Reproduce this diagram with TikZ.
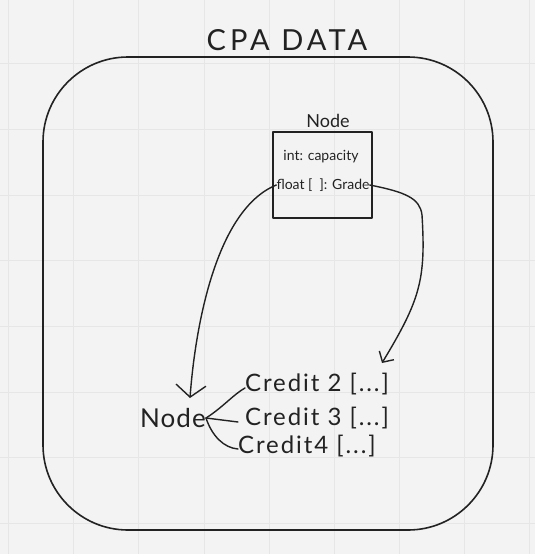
\documentclass[tikz,border=0pt]{standalone}
\usepackage{fontspec}
\setmainfont{Lato}
\usepackage{xcolor}
\usetikzlibrary{arrows.meta,positioning,calc}
\definecolor{paper}{HTML}{F3F3F3}
\definecolor{gridline}{HTML}{E6E6E6}
\definecolor{ink}{HTML}{222222}

\begin{document}
\begin{tikzpicture}[x=1pt,y=-1pt,
    pen/.style={ink,line width=1.4pt,line cap=round,line join=round},
    hand/.style={inner sep=0pt,text=ink},
    bigbarb/.style={-{Straight Barb[length=12pt,width=30pt]}},
    smallbarb/.style={-{Straight Barb[length=8pt,width=17pt]}}]

        % Paper with grid
        \fill[paper] (0,0) rectangle (535,554);
        \useasboundingbox (0,0) rectangle (535,554);
        \foreach \gx in {8,73,138,204,269,334,399,464,529} {
            \draw[gridline,line width=1pt] (\gx,0) -- (\gx,554);
        }
        \foreach \gy in {63,129,195,260,326,392,457,523} {
            \draw[gridline,line width=1pt] (0,\gy) -- (535,\gy);
        }

        % Outer frame and title
        \draw[pen,line width=1.6pt,rounded corners=85] (43,57) rectangle (493,530);
        \node[hand,font=\fontsize{29}{36}\selectfont\addfontfeature{LetterSpace=14}] (title) at (287,40) {CPA DATA};

        % Class box
        \node[pen,draw,minimum width=99,minimum height=86,inner sep=0pt] (cls) at (322.5,175) {};
        \node[hand,font=\fontsize{18}{22}\selectfont] (clsname) at (328,120.5) {Node};
        \node[hand,font=\fontsize{14}{17}\selectfont] (capf) at (321,157) {int: capacity};
        \node[hand,font=\fontsize{14}{17}\selectfont] (gradef) at (323,185) {float [ \ ]: Grade};

        % Free arrow ends
        \coordinate (ltip) at (190,398);
        \coordinate (rtip) at (382,363);

        \draw[pen,bigbarb] (gradef.west) .. controls (215,210) and (195,330) .. (ltip);
        \draw[pen,smallbarb] (gradef.east) .. controls (405,192) and (420,198) .. (422,215)
            .. controls (426,280) and (420,300) .. (rtip);

        % Linked list of credits
        \node[hand,font=\fontsize{26}{30}\selectfont\addfontfeature{LetterSpace=4}] (bnode) at (173,418) {Node};
        \node[hand,anchor=west,font=\fontsize{24}{28}\selectfont\addfontfeature{LetterSpace=8}] (c2) at (245,384) {Credit 2 [...]};
        \node[hand,anchor=west,font=\fontsize{24}{28}\selectfont\addfontfeature{LetterSpace=8}] (c3) at (245,418) {Credit 3 [...]};
        \node[hand,anchor=west,font=\fontsize{24}{28}\selectfont\addfontfeature{LetterSpace=8}] (c4) at (238,446) {Credit4 [...]};

        \draw[pen] (bnode.east) .. controls (222,408) and (234,394) .. ([yshift=-4]c2.west);
        \draw[pen] (bnode.east) -- ([xshift=-7,yshift=-4]c3.west);
        \draw[pen] (bnode.east) .. controls (212,436) and (224,448) .. ([yshift=-3]c4.west);

    \end{tikzpicture}
\end{document}
